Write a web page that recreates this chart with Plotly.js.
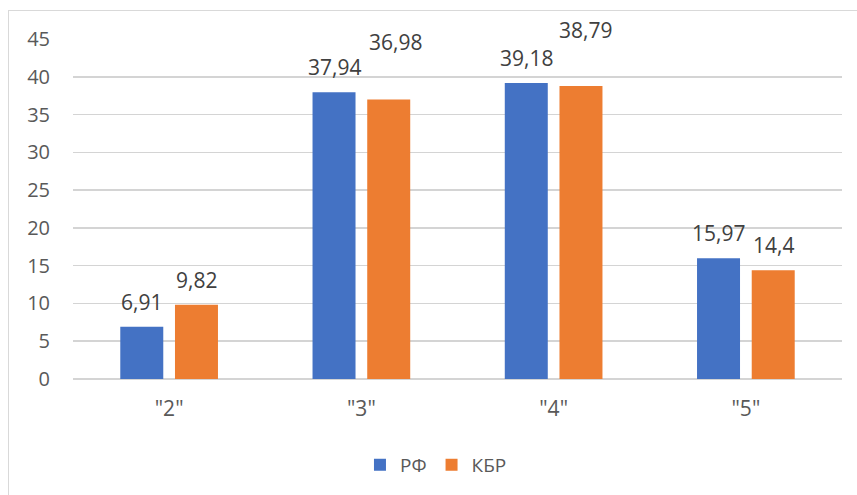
<!DOCTYPE html>
<html>
<head>
<meta charset="utf-8">
<script src="https://cdn.plot.ly/plotly-3.0.1.min.js"></script>
<style>
  html, body { margin: 0; padding: 0; background: #fff; overflow: hidden; }
  #wrap { position: relative; width: 857px; height: 495px; }
  #chart { position: absolute; left: 0; top: 0; width: 857px; height: 495px; }
  #frame { position: absolute; left: 8px; top: 10px; width: 870px; height: 500px;
           border: 1px solid #d9d9d9; pointer-events: none; box-sizing: border-box; }
</style>
</head>
<body>
<div id="wrap">
  <div id="chart"></div>
  <div id="frame"></div>
</div>
<script>
// ---- data ----
const categories = ['"2"', '"3"', '"4"', '"5"'];
const seriesNames = ['РФ', 'КБР'];
const rfValues  = [6.91, 37.94, 39.18, 15.97];
const kbrValues = [9.82, 36.98, 38.79, 14.4];
const yTicks = [0, 5, 10, 15, 20, 25, 30, 35, 40, 45];

// ---- layout config (styles / label nudges, not data) ----
const colors = ['#4472C4', '#ED7D31'];
const BARGAP = 0.431, BARGROUPGAP = 0.214;
const baseLift = 25;                       // px above bar top (label centre)
const extraLift = [[0, 0, 0, 0], [0, 33, 31, 0]];
const extraShiftX = [[0, 0, 0, 0], [0, 7, 5, 0]];
const fontFamily = '"Open Sans", "Liberation Sans", sans-serif';

const xIdx = categories.map((_, i) => i);
const series = [rfValues, kbrValues];

const traces = series.map((vals, s) => ({
  type: 'bar',
  name: seriesNames[s],
  x: xIdx,
  y: vals,
  marker: { color: colors[s] },
  hoverinfo: 'skip'
}));

const fmt = v => String(v).replace('.', ',');
const slot = (1 - BARGAP) / series.length;
const annotations = [];
series.forEach((vals, s) => {
  vals.forEach((v, i) => {
    annotations.push({
      x: i + (s - (series.length - 1) / 2) * slot,
      y: v,
      xref: 'x', yref: 'y',
      text: fmt(v),
      showarrow: false,
      xanchor: 'center', yanchor: 'middle',
      yshift: baseLift + extraLift[s][i],
      xshift: extraShiftX[s][i],
      font: { family: fontFamily, size: 21, color: '#404040' }
    });
  });
});

const layout = {
  width: 857, height: 495,
  margin: { l: 72.7, r: 15.3, t: 39.3, b: 115 },
  paper_bgcolor: '#ffffff',
  plot_bgcolor: '#ffffff',
  barmode: 'group',
  bargap: BARGAP,
  bargroupgap: BARGROUPGAP,
  showlegend: true,
  legend: {
    orientation: 'h',
    x: 0.472, xanchor: 'center',
    y: -0.249, yanchor: 'middle',
    font: { family: fontFamily, size: 19, color: '#595959' },
    itemwidth: 30
  },
  xaxis: {
    range: [-0.5, 3.5],
    tickmode: 'array',
    tickvals: xIdx,
    ticktext: categories,
    showgrid: false,
    zeroline: false,
    showline: false,
    ticks: '',
    ticklabelstandoff: 15,
    tickfont: { family: fontFamily, size: 21, color: '#595959' },
    fixedrange: true
  },
  yaxis: {
    range: [0, 45],
    tickmode: 'array',
    tickvals: yTicks,
    ticktext: yTicks.map(String),
    showgrid: true,
    gridcolor: '#d4d4d4',
    gridwidth: 1.5,
    zeroline: true,
    zerolinecolor: '#d4d4d4',
    zerolinewidth: 1.5,
    showline: false,
    ticks: '',
    ticklabelstandoff: 22,
    tickfont: { family: fontFamily, size: 20, color: '#595959' },
    fixedrange: true
  },
  annotations: annotations
};

Plotly.newPlot('chart', traces, layout, { displayModeBar: false, staticPlot: true });
</script>
</body>
</html>
